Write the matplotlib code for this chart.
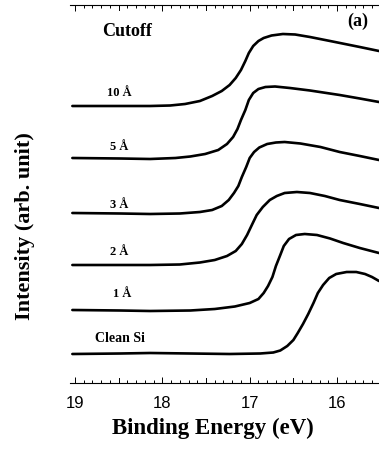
import matplotlib
matplotlib.use("Agg")
import matplotlib.pyplot as plt
from matplotlib.ticker import MultipleLocator

# binding energy (eV) / intensity (arb. unit) for each coverage, offsets included
e_10 = [19.03, 18.48, 18.14, 17.91, 17.74, 17.57, 17.43, 17.32, 17.23, 17.16, 17.10, 17.05, 17.01, 16.96,
        16.90, 16.84, 16.75, 16.62, 16.48, 16.31, 16.08, 15.91, 15.74, 15.52]
i_10 = [27.7, 27.7, 27.7, 27.75, 27.9, 28.2, 28.7, 29.2, 29.8, 30.5, 31.3, 32.2, 33.0, 33.7,
        34.2, 34.5, 34.75, 34.9, 34.85, 34.6, 34.2, 33.9, 33.6, 33.2]

e_5 = [19.03, 18.48, 18.14, 17.85, 17.68, 17.51, 17.36, 17.26, 17.19, 17.14, 17.10, 17.05, 17.01, 16.96,
       16.90, 16.82, 16.71, 16.54, 16.31, 15.97, 15.74, 15.52]
i_5 = [22.5, 22.45, 22.4, 22.5, 22.65, 22.9, 23.3, 23.9, 24.6, 25.4, 26.3, 27.3, 28.3, 29.0,
       29.4, 29.6, 29.65, 29.5, 29.25, 28.8, 28.45, 28.1]

e_3 = [19.03, 18.48, 18.14, 17.80, 17.57, 17.43, 17.32, 17.24, 17.18, 17.13, 17.09, 17.04, 17.00, 16.95,
       16.89, 16.80, 16.70, 16.60, 16.42, 16.19, 15.97, 15.74, 15.52]
i_3 = [17.0, 16.95, 16.9, 16.95, 17.1, 17.3, 17.7, 18.3, 19.0, 19.7, 20.6, 21.6, 22.5, 23.1,
       23.55, 23.9, 24.05, 24.1, 23.95, 23.6, 23.1, 22.7, 22.3]

e_2 = [19.03, 18.48, 18.14, 17.80, 17.57, 17.40, 17.26, 17.16, 17.09, 17.03, 16.97, 16.92, 16.85, 16.77,
       16.69, 16.60, 16.46, 16.31, 16.14, 15.97, 15.74, 15.52]
i_2 = [11.8, 11.8, 11.8, 11.85, 12.05, 12.3, 12.7, 13.2, 13.9, 14.8, 15.9, 16.8, 17.6, 18.3,
       18.7, 19.0, 19.1, 19.0, 18.7, 18.3, 17.9, 17.5]

e_1 = [19.03, 18.48, 18.14, 17.68, 17.40, 17.17, 17.00, 16.90, 16.84, 16.79, 16.74, 16.70, 16.65, 16.61,
       16.55, 16.47, 16.37, 16.23, 16.08, 15.93, 15.74, 15.52]
i_1 = [7.3, 7.25, 7.2, 7.25, 7.4, 7.65, 8.0, 8.4, 9.0, 9.7, 10.6, 11.7, 12.8, 13.7,
       14.4, 14.8, 14.9, 14.8, 14.45, 14.0, 13.5, 13.0]

e_si = [19.03, 18.48, 18.14, 17.68, 17.23, 16.88, 16.73, 16.65, 16.57, 16.50, 16.45, 16.39, 16.33, 16.27,
        16.22, 16.16, 16.09, 16.01, 15.89, 15.78, 15.68, 15.60, 15.52]
i_si = [2.9, 2.95, 3.0, 2.95, 2.9, 2.95, 3.05, 3.25, 3.7, 4.3, 5.0, 5.9, 6.9, 8.0,
        9.0, 9.8, 10.5, 10.9, 11.1, 11.1, 10.9, 10.6, 10.2]

curves = [(e_10, i_10), (e_5, i_5), (e_3, i_3), (e_2, i_2), (e_1, i_1), (e_si, i_si)]
labels = ["10 Å", "5 Å", "3 Å", "2 Å", "1 Å", "Clean Si"]
label_e = [18.49, 18.49, 18.49, 18.49, 18.46, 18.49]
label_i = [29.0, 23.6, 17.8, 13.1, 8.9, 4.5]
xticks = [19, 18, 17, 16]

serif = "Liberation Serif"

fig = plt.figure(figsize=(3.79, 4.54), dpi=100)
ax = fig.add_axes([70 / 379, 1 - 383 / 454, 1 - 70 / 379, (383 - 5) / 454])

for e, i in curves:
    ax.plot(e, i, color="black", lw=1.9, solid_joinstyle="round", solid_capstyle="round")

for lab, x, y in zip(labels, label_e, label_i):
    fs = 10 if lab == "Clean Si" else 9
    ax.text(x, y, lab, ha="center", va="center", fontsize=fs, fontweight="bold", family=serif)

ax.text(18.40, 35.2, "Cutoff", ha="center", va="center", fontsize=13, fontweight="bold", family=serif)
ax.text(15.76, 36.2, "(a)", ha="center", va="center", fontsize=13, fontweight="bold", family=serif)

ax.set_xlim(19.057, 15.52)
ax.set_ylim(0, 37.8)
ax.spines["left"].set_visible(False)
ax.spines["right"].set_visible(False)
for s in ("top", "bottom"):
    ax.spines[s].set_linewidth(0.8)

ax.set_xticks(xticks)
ax.xaxis.set_minor_locator(MultipleLocator(0.1))
ax.tick_params(axis="x", which="both", direction="in", top=True, bottom=True, width=0.7)
ax.tick_params(axis="x", which="major", length=4, pad=9, labelsize=12)
ax.tick_params(axis="x", which="minor", length=2.2)
ax.set_yticks([])
for t in ax.get_xticklabels():
    t.set_family("Liberation Sans")

# half-eV ticks slightly longer than the 0.1 eV ones
for h in [18.5, 17.5, 16.5]:
    ax.plot([h, h], [0, 0.5], color="black", lw=0.7, clip_on=False)
    ax.plot([h, h], [37.8, 37.3], color="black", lw=0.7, clip_on=False)

fig.text(213 / 379, 1 - 428 / 454, "Binding Energy (eV)", ha="center", va="center",
         fontsize=16.5, fontweight="bold", family=serif)
fig.text(25 / 379, 1 - 226 / 454, "Intensity (arb. unit)", ha="center", va="center",
         rotation=90, fontsize=16, fontweight="bold", family=serif)

fig.savefig("out.png", dpi=100)
